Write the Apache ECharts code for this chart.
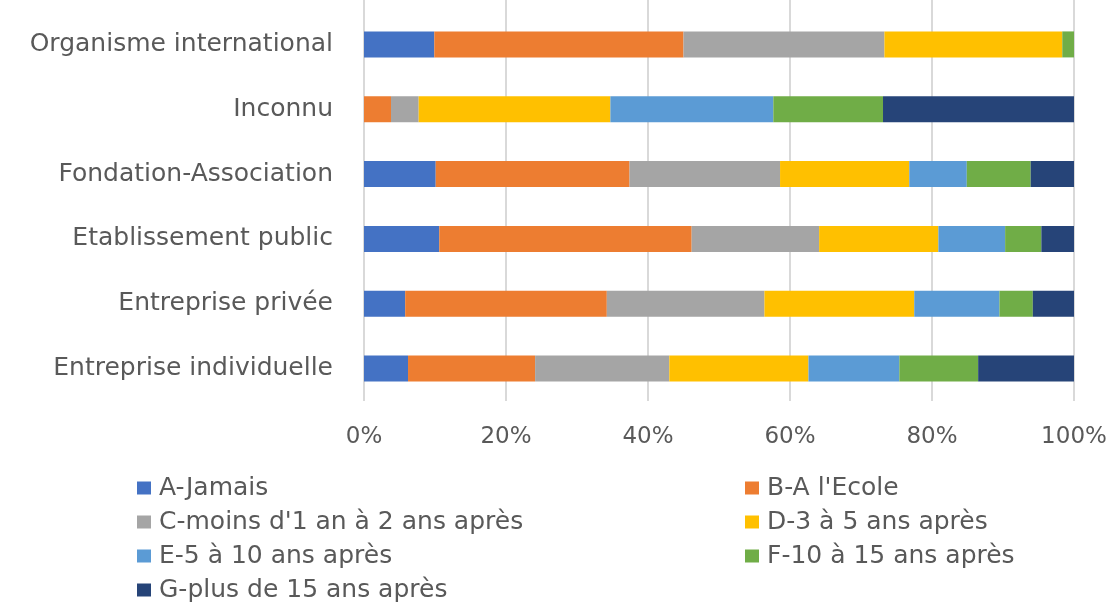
<!DOCTYPE html>
<html>
<head>
<meta charset="utf-8">
<script src="https://cdn.jsdelivr.net/npm/echarts@6/dist/echarts.min.js"></script>
<style>
    html, body { margin: 0; padding: 0; background: #fff; }
    #stack-chart { width: 1112px; height: 603px; }
</style>
</head>
<body>
<div id="stack-chart"></div>
<script>
// categories, bottom to top
var categories = ['Entreprise individuelle', 'Entreprise privée', 'Etablissement public',
    'Fondation-Association', 'Inconnu', 'Organisme international'];
var xTicks = [0, 20, 40, 60, 80, 100];

// shares in % for each category
var jamais = [6.2, 5.8, 10.6, 10.1, 0, 9.9];
var ecole = [17.9, 28.4, 35.55, 27.3, 3.8, 35.1];
var moins2 = [18.9, 22.2, 17.95, 21.2, 3.9, 28.3];
var ans3a5 = [19.6, 21.1, 16.8, 18.2, 27.0, 25.05];
var ans5a10 = [12.8, 12.0, 9.4, 8.1, 22.95, 0];
var ans10a15 = [11.1, 4.7, 5.1, 9.0, 15.45, 1.65];
var plus15 = [13.5, 5.8, 4.6, 6.1, 26.9, 0];

var seriesNames = ['A-Jamais', 'B-A l\'Ecole', 'C-moins d\'1 an à 2 ans après', 'D-3 à 5 ans après',
    'E-5 à 10 ans après', 'F-10 à 15 ans après', 'G-plus de 15 ans après'];
var seriesData = [jamais, ecole, moins2, ans3a5, ans5a10, ans10a15, plus15];
var colors = ['#4472C4', '#ED7D31', '#A5A5A5', '#FFC000', '#5B9BD5', '#70AD47', '#264478'];

var textColor = '#595959';
var font = 'DejaVu Sans';
var gridColor = '#d9d9d9';

var myChart = echarts.init(document.getElementById('stack-chart'));

/**
 * one legend item, two columns, rows 34px apart
 */
function legendItem(i) {
    let col = i % 2;
    let row = Math.floor(i / 2);
    return {
        left: col == 0 ? 137 : 745,
        top: 475 + row * 34,
        padding: 0,
        itemWidth: 14,
        itemHeight: 13,
        icon: 'rect',
        data: [seriesNames[i]],
        textStyle: {
            color: textColor, fontSize: 25, fontFamily: font, lineHeight: 26,
            padding: [0, 0, 0, 3]
        }
    };
}

var legends = [];
var series = [];
for (let i = 0; i < seriesNames.length; i++) {
    legends.push(legendItem(i));
    series.push({
        name: seriesNames[i],
        type: 'bar',
        stack: 'total',
        barWidth: 26,
        itemStyle: { color: colors[i] },
        data: seriesData[i]
    });
}

var option = {
    animation: false,
    backgroundColor: '#fff',
    // second grid only carries the gridlines up to the top edge
    grid: [
        { left: 364, right: 38, top: 12, height: 389 },
        { left: 364, right: 38, top: 0, height: 12 }
    ],
    legend: legends,
    xAxis: [{
        type: 'value',
        min: xTicks[0],
        max: xTicks[xTicks.length - 1],
        interval: xTicks[1] - xTicks[0],
        axisLine: { show: false },
        axisTick: { show: false },
        splitLine: { show: true, lineStyle: { color: gridColor, width: 2 } },
        axisLabel: {
            formatter: '{value}%',
            color: textColor,
            fontSize: 23,
            fontFamily: font,
            margin: 25
        }
    }, {
        type: 'value',
        gridIndex: 1,
        min: xTicks[0],
        max: xTicks[xTicks.length - 1],
        interval: xTicks[1] - xTicks[0],
        axisLine: { show: false },
        axisTick: { show: false },
        axisLabel: { show: false },
        splitLine: { show: true, lineStyle: { color: gridColor, width: 2 } }
    }],
    yAxis: [{
        type: 'category',
        data: categories,
        axisLine: { show: false },
        axisTick: { show: false },
        axisLabel: { color: textColor, fontSize: 25, fontFamily: font, margin: 31 }
    }, {
        type: 'value',
        gridIndex: 1,
        show: false
    }],
    series: series
};

myChart.setOption(option);
</script>
</body>
</html>
